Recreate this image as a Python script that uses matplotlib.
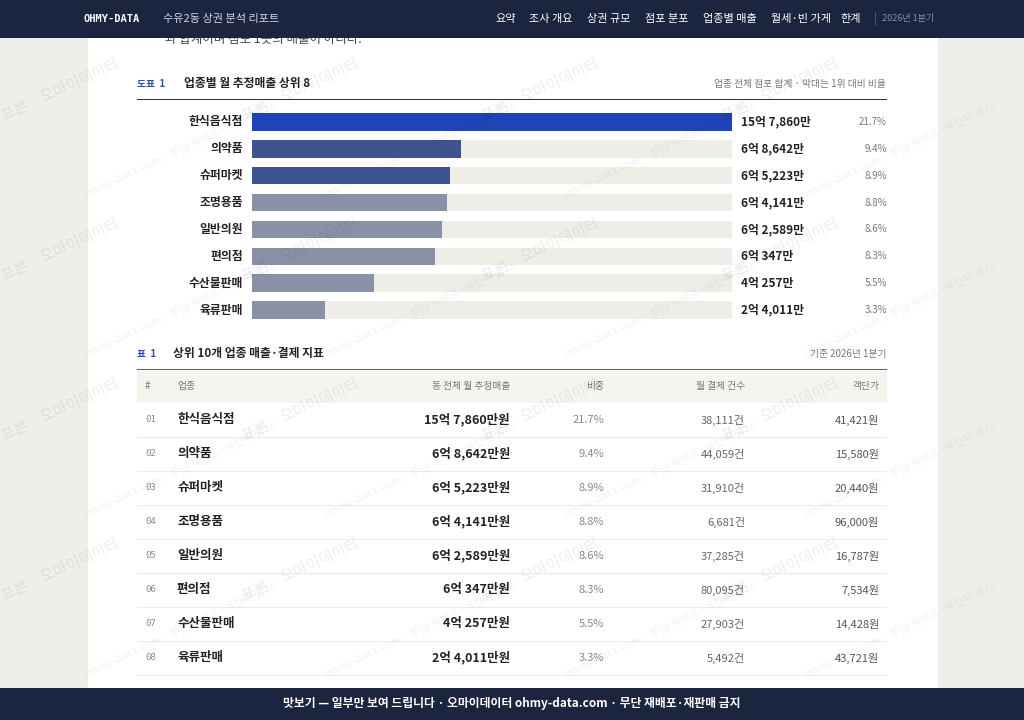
import matplotlib
matplotlib.use("Agg")
import matplotlib.pyplot as plt
from matplotlib.patches import Rectangle

plt.rcParams['font.family'] = ['Noto Sans CJK KR', 'DejaVu Sans']

categories = ["한식음식점", "의약품", "슈퍼마켓", "조명용품", "일반의원", "편의점", "수산물판매", "육류판매"]
sales_man = [157860, 68642, 65223, 64141, 62589, 60347, 40257, 24011]  # 만원
sales_label = ["15억 7,860만", "6억 8,642만", "6억 5,223만", "6억 4,141만", "6억 2,589만", "6억 347만", "4억 257만", "2억 4,011만"]
share = ["21.7%", "9.4%", "8.9%", "8.8%", "8.6%", "8.3%", "5.5%", "3.3%"]
payments = ["38,111건", "44,059건", "31,910건", "6,681건", "37,285건", "80,095건", "27,903건", "5,492건"]
unit_price = ["41,421원", "15,580원", "20,440원", "96,000원", "16,787원", "7,534원", "14,428원", "43,721원"]
nav_items = ["요약", "조사 개요", "상권 규모", "점포 분포", "업종별 매출", "월세·빈 가게", "한계"]
bar_colors = ["#1f44b8", "#3d5491", "#3d5491", "#8891a6", "#8891a6", "#8891a6", "#8891a6", "#8891a6"]

W, H = 1024, 720
fig = plt.figure(figsize=(W/100, H/100), dpi=100)
fig.patch.set_facecolor("#efeee9")

def Y(y): return 1 - y/H
def X(x): return x/W
def rect(x, y, w, h, c, z=0):
    fig.patches.append(Rectangle((X(x), Y(y+h)), w/W, h/H, transform=fig.transFigure, color=c, zorder=z, lw=0))
def txt(x, y, s, size=9, color="#222", ha="left", weight="normal", **kw):
    fig.text(X(x), Y(y), s, fontsize=size, color=color, ha=ha, va="center", weight=weight, **kw)

rect(88, 0, 850, 720, "white", -1)
# nav
rect(0, 0, 1024, 38, "#1b2540", 5)
txt(84, 19, "OHMY-DATA", 7.5, "white", weight="bold", family="DejaVu Sans Mono", zorder=6)
txt(163, 19, "수유2동 상권 분석 리포트", 8, "#d0d4de", zorder=6)
nx = [495, 529, 587, 645, 703, 771, 840]
for x, s in zip(nx, nav_items):
    txt(x, 19, s, 8, "white", zorder=6)
rect(875, 12, 1, 14, "#4a5470", 6)
txt(882, 19, "2026년 1분기", 6.5, "#8890a8", zorder=6)
txt(165, 40, "과 합계이며 점포 1곳의 매출이 아니다.", 9, "#444")

# figure 1 header
txt(137, 84, "도표  1", 7, "#2a4fb8", weight="bold")
txt(184, 84, "업종별 월 추정매출 상위 8", 8.5, "#222", weight="bold")
txt(886, 84, "업종 전체 점포 합계 · 막대는 1위 대비 비율", 7, "#777", ha="right")
rect(137, 99, 750, 1.2, "#333")

# bar axes
top, bot = 108.5, 323.5
ax = fig.add_axes([X(252), Y(bot), (732-252)/W, (bot-top)/H])
ax.set_zorder(2)
ax.patch.set_alpha(0)
n = len(categories)
ys = list(range(n))
mx = max(sales_man)
ax.barh(ys, [mx]*n, height=0.65, color="#eeede8")
ax.barh(ys, sales_man, height=0.65, color=bar_colors)
ax.set_xlim(0, mx); ax.set_ylim(n-0.5, -0.5)
ax.axis("off")
for i in range(n):
    yc = top + (i+0.5)*(bot-top)/n
    txt(243, yc, categories[i], 8.5, "#222", ha="right", weight="bold")
    txt(741, yc, sales_label[i], 8.5, "#222", weight="bold")
    txt(887, yc, share[i], 7, "#777", ha="right")

# table
txt(137, 354, "표  1", 7, "#2a4fb8", weight="bold")
txt(173, 354, "상위 10개 업종 매출·결제 지표", 8.5, "#222", weight="bold")
txt(886, 354, "기준 2026년 1분기", 7, "#777", ha="right")
rect(137, 369, 750, 1.5, "#555d70")
rect(137, 370.5, 750, 32, "#f5f4ef")
hy = 386
txt(145, hy, "#", 7, "#777"); txt(177, hy, "업종", 7, "#777")
txt(510, hy, "동 전체 월 추정매출", 7, "#777", ha="right")
txt(604, hy, "비중", 7, "#777", ha="right")
txt(745, hy, "월 결제 건수", 7, "#777", ha="right")
txt(879, hy, "객단가", 7, "#777", ha="right")
for i in range(n):
    yc = 420 + 34*i
    rect(137, yc+17, 750, 1, "#ebebeb")
    txt(145, yc, f"{i+1:02d}", 6.5, "#888", family="DejaVu Sans Mono")
    txt(177, yc, categories[i], 9, "#222", weight="bold")
    txt(510, yc, sales_label[i] + "원", 9, "#222", ha="right", weight="bold")
    txt(604, yc, share[i], 8, "#888", ha="right")
    txt(745, yc, payments[i], 8, "#666", ha="right")
    txt(879, yc, unit_price[i], 8, "#555", ha="right")

# footer
rect(0, 688, 1024, 32, "#1b2540", 5)
txt(512, 704, "맛보기 — 일부만 보여 드립니다 · 오마이데이터 ohmy-data.com · 무단 재배포·재판매 금지", 8.5, "white", ha="center", weight="bold", zorder=6)

# watermarks
for wx in range(60, 1000, 240):
    for wy in range(90, 700, 160):
        fig.text(X(wx), Y(wy), "표본 · 오마이데이터", fontsize=11, color="#000", alpha=0.07, rotation=25, ha="center", va="center", zorder=3)
        fig.text(X(wx+120), Y(wy+60), "ohmy-data.com · 무단 재배포·재판매 금지", fontsize=8, color="#000", alpha=0.06, rotation=25, ha="center", va="center", zorder=3)

fig.savefig("out.png", dpi=100)
